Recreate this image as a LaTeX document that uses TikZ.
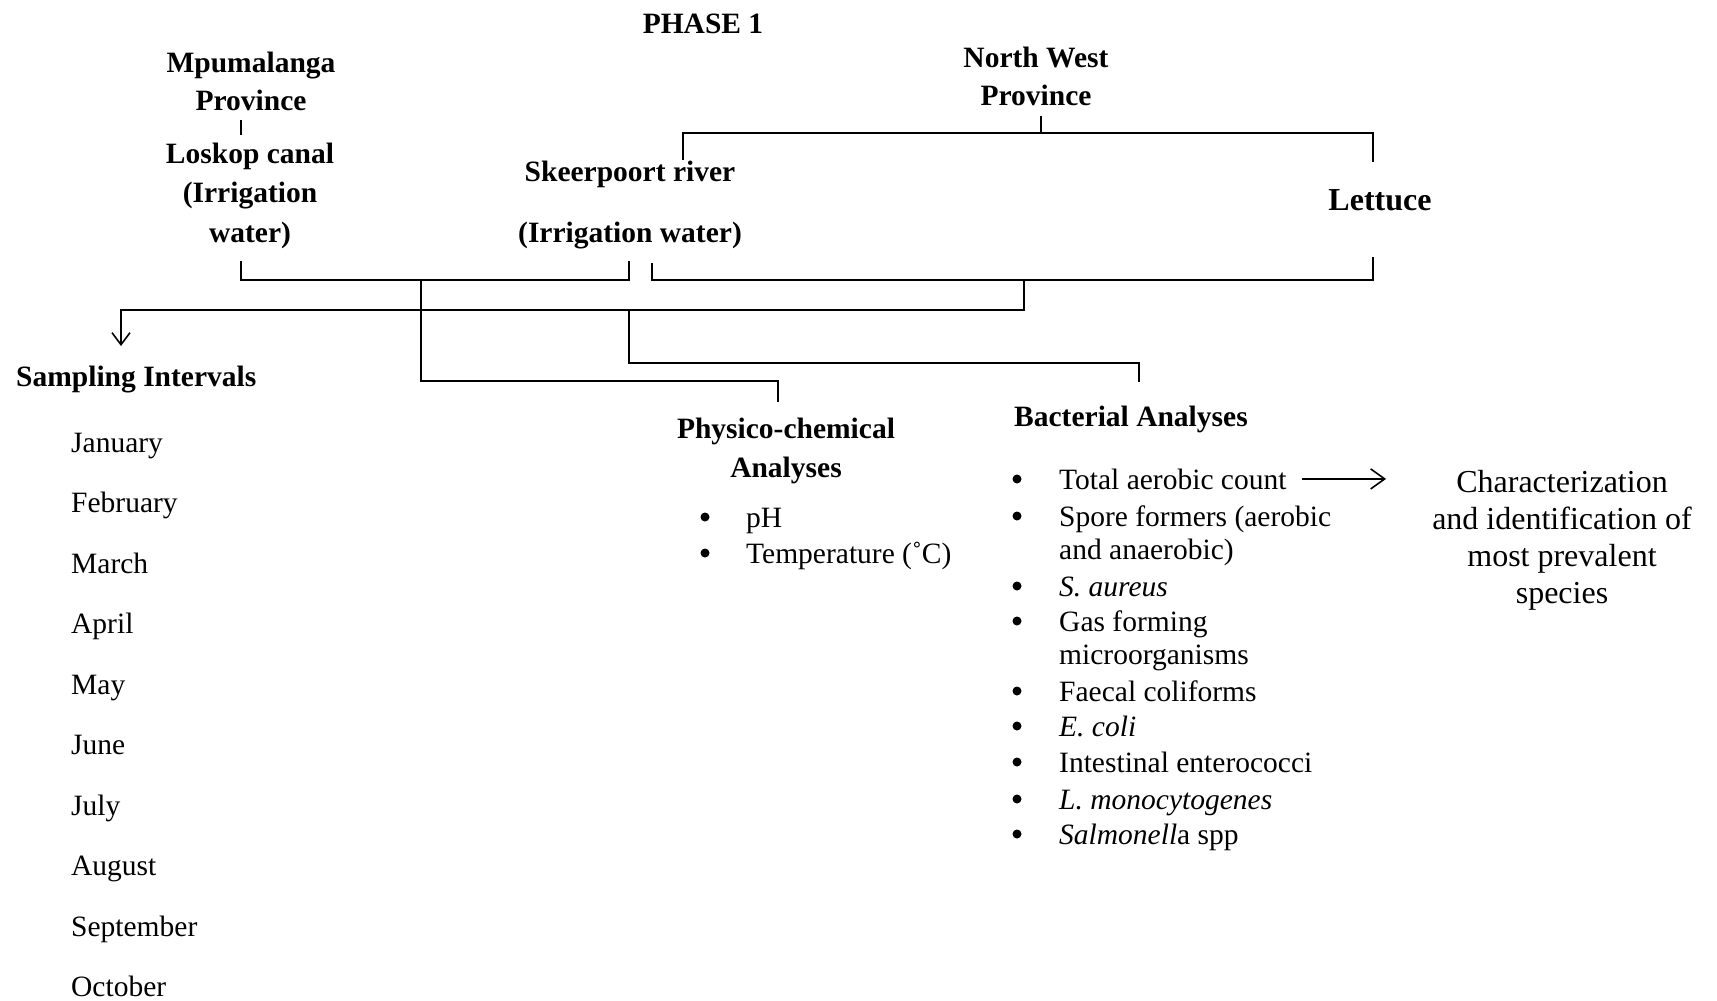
\documentclass[tikz,border=0pt]{standalone}
\usepackage{fontspec}
\setmainfont{Liberation Serif}
\usetikzlibrary{arrows.meta, positioning}

\newcommand{\bodyfont}{\fontsize{29.5}{38}\selectfont}
\newcommand{\headfont}{\fontsize{29.5}{38}\selectfont\bfseries}
\newcommand{\bigfont}{\fontsize{32}{36.7}\selectfont}
\newcommand{\wrapfont}{\fontsize{29.5}{33}\selectfont}

\tikzset{
  head/.style={font=\headfont, inner sep=0pt, align=center},
  body/.style={font=\bodyfont, inner sep=0pt, anchor=base west},
  dot/.style={circle, fill=black, inner sep=0pt, minimum size=9pt},
  link/.style={line width=1.6pt},
  barb/.style={link, -{Straight Barb[length=12pt, width=18pt]}},
}

\begin{document}
\begin{tikzpicture}[x=1pt, y=-1pt]
  \useasboundingbox (0,0) rectangle (1717,1001);

  % Title
  \node[head, anchor=base] (phase) at (703,33) {PHASE 1};

  % Sites (multi-line nodes sit on their last line)
  \node[head, anchor=base] (mpu) at (251,110) {Mpumalanga\\Province};
  \node[head, anchor=base] (loskop) at (250,242) {Loskop canal\\[1.5pt](Irrigation\\[1.5pt]water)};
  \node[head, anchor=base] (nw) at (1036,105) {North West\\Province};
  \node[head, anchor=base] (skeer) at (630,242) {Skeerpoort river\\[23pt](Irrigation water)};
  \node[head, anchor=base, font={\bigfont\bfseries}] (lettuce) at (1380,210) {Lettuce};

  % Sampling intervals
  \node[head, anchor=base west] (sampling) at (16,386) {Sampling Intervals};
  \node[body] (jan) at (71,452) {January};
  \node[body] (feb) at (71,512.5) {February};
  \node[body] (mar) at (71,573) {March};
  \node[body] (apr) at (71,633.5) {April};
  \node[body] (may) at (71,694) {May};
  \node[body] (jun) at (71,754.5) {June};
  \node[body] (jul) at (71,815) {July};
  \node[body] (aug) at (71,875.5) {August};
  \node[body] (sep) at (71,936) {September};
  \node[body] (oct) at (71,996.5) {October};

  % Physico-chemical analyses
  \node[head, anchor=base] (physico) at (786,477) {Physico-chemical\\[1pt]Analyses};
  \node[dot] (phdot) at (705,517) {};
  \node[body] (ph) at (746,527) {pH};
  \node[dot] (tempdot) at (705,553) {};
  \node[body] (temp) at (746,563) {Temperature (˚C)};

  % Bacterial analyses
  \node[head, anchor=base west] (bact) at (1014,426) {Bacterial Analyses};
  \node[dot] (tacdot) at (1017,479) {};
  \node[body] (tac) at (1059,489) {Total aerobic count};
  \node[dot] (sporedot) at (1017,516) {};
  \node[body, align=left, font=\wrapfont] (spore) at (1059,559) {Spore formers (aerobic\\and anaerobic)};
  \node[dot] (saudot) at (1017,586) {};
  \node[body] (sau) at (1059,596) {\textit{S. aureus}};
  \node[dot] (gasdot) at (1017,621) {};
  \node[body, align=left, font=\wrapfont] (gas) at (1059,664) {Gas forming\\microorganisms};
  \node[dot] (faecdot) at (1017,691) {};
  \node[body] (faec) at (1059,701) {Faecal coliforms};
  \node[dot] (ecoldot) at (1017,726) {};
  \node[body] (ecol) at (1059,736) {\textit{E. coli}};
  \node[dot] (entdot) at (1017,762) {};
  \node[body] (ent) at (1059,772) {Intestinal enterococci};
  \node[dot] (listdot) at (1017,799) {};
  \node[body] (list) at (1059,809) {\textit{L. monocytogenes}};
  \node[dot] (salmdot) at (1017,834) {};
  \node[body] (salm) at (1059,844) {\textit{Salmonell}a spp};

  \node[font=\bigfont, inner sep=0pt, align=center, anchor=base] (charac) at (1562,603) {Characterization\\and identification of\\most prevalent\\species};

  % Junction points
  \coordinate (mpuA) at (241,120);
  \coordinate (mpuB) at (241,135);
  \coordinate (nwA) at (1041,116);
  \coordinate (nwB) at (1041,133);
  \coordinate (nwL) at (683,133);
  \coordinate (nwLe) at (683,160);
  \coordinate (nwR) at (1373,133);
  \coordinate (nwRe) at (1373,162);
  \coordinate (irrL) at (241,261);
  \coordinate (irrLb) at (241,280);
  \coordinate (irrR) at (629,261);
  \coordinate (irrRb) at (629,280);
  \coordinate (letL) at (652,263);
  \coordinate (letLb) at (652,280);
  \coordinate (letR) at (1373,257);
  \coordinate (letRb) at (1373,280);
  \coordinate (irrJ) at (421,280);
  \coordinate (letJ) at (1024,280);
  \coordinate (sampJ) at (1024,310);
  \coordinate (sampA) at (121,310);
  \coordinate (sampB) at (121,346);
  \coordinate (bactJ) at (629,310);
  \coordinate (bactA) at (629,363);
  \coordinate (bactB) at (1139,363);
  \coordinate (bactC) at (1139,382);
  \coordinate (physA) at (421,381);
  \coordinate (physB) at (778,381);
  \coordinate (physC) at (778,402);

  % Connectors
  \draw[link] (mpuA) -- (mpuB);
  \draw[link] (nwA) -- (nwB);
  \draw[link] (nwLe) -- (nwL) -- (nwR) -- (nwRe);
  \draw[link] (irrL) -- (irrLb) -- (irrRb) -- (irrR);
  \draw[link] (letL) -- (letLb) -- (letRb) -- (letR);
  \draw[barb] (letJ) -- (sampJ) -- (sampA) -- (sampB);
  \draw[link] (bactJ) -- (bactA) -- (bactB) -- (bactC);
  \draw[link] (irrJ) -- (physA) -- (physB) -- (physC);
  \draw[barb, -{Straight Barb[length=14pt, width=20pt]}, shorten <=15pt, shorten >=46pt] (tac.east) -- (tac.east -| charac.west);
\end{tikzpicture}
\end{document}
